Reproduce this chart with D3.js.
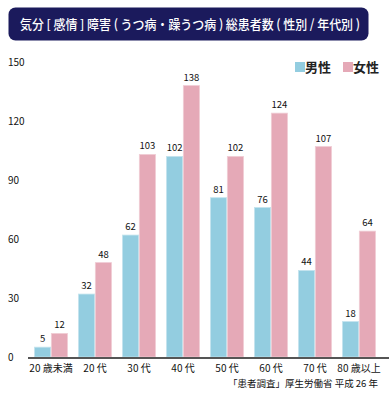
<!DOCTYPE html>
<html><head><meta charset="utf-8">
<script src="https://cdn.jsdelivr.net/npm/d3@7"></script>
<style>
html,body{margin:0;padding:0;background:#fff;}
svg{display:block;font-family:"Noto Sans CJK JP","Noto Sans",sans-serif;}
</style></head>
<body><svg id="c" width="389" height="393"></svg>
<script>
const title = "気分 [ 感情 ] 障害 ( うつ病・躁うつ病 ) 総患者数 ( 性別 / 年代別 )";
const categories = ["20 歳未満","20 代","30 代","40 代","50 代","60 代","70 代","80 歳以上"];
const seriesNames = ["男性","女性"];
const male = [5,32,62,102,81,76,44,18];
const female = [12,48,103,138,102,124,107,64];
const yTicks = [0,30,60,90,120,150];
const source = "「患者調査」厚生労働省 平成 26 年";
const colors = ["#93cde0","#e5a9b7"];

const svg = d3.select("#c");
// title box
svg.append("rect").attr("x",8.5).attr("y",7.5).attr("width",360).attr("height",33)
  .attr("rx",7).attr("fill","#1b1a5c");
svg.append("text").attr("x",20).attr("y",28.5)
  .attr("fill","#fff").attr("font-size",13).attr("font-weight","500")
  .attr("textLength",340).attr("lengthAdjust","spacingAndGlyphs").text(title);

const x = d3.scaleBand().domain(categories).range([29,381]).paddingInner(0.25).paddingOuter(0.125);
const x1 = d3.scaleBand().domain(seriesNames).range([0,x.bandwidth()]).paddingInner(0.04);
const y = d3.scaleLinear().domain([0,150]).range([357,62]);

// y tick labels
svg.append("g").selectAll("text").data(yTicks).join("text")
  .attr("x",8).attr("y",d=>y(d)+4).attr("font-size",10).attr("fill","#111").text(d=>d);

const data = categories.map((c,i)=>({c, vals:[male[i],female[i]]}));
const g = svg.append("g");
data.forEach(d=>{
  d.vals.forEach((v,j)=>{
    const bx = x(d.c)+x1(seriesNames[j]);
    g.append("rect").attr("x",bx).attr("y",y(v)).attr("width",x1.bandwidth())
      .attr("height",y(0)-y(v)).attr("fill",colors[j])
      .attr("stroke", j===0?"#c3e3ee":"#f0cdd5").attr("stroke-width",0.8);
    g.append("text").attr("x",bx+x1.bandwidth()/2).attr("y",y(v)-5)
      .attr("text-anchor","middle").attr("font-size",9.5).attr("fill","#111").text(v);
  });
});

// baseline
svg.append("line").attr("x1",28).attr("x2",389).attr("y1",y(0)+1).attr("y2",y(0)+1)
  .attr("stroke","#555").attr("stroke-width",2);

// x axis labels
const xa = svg.append("g").attr("transform",`translate(0,${y(0)+2})`)
  .call(d3.axisBottom(x).tickSize(0).tickPadding(6));
xa.select(".domain").remove();
xa.selectAll("text").attr("font-size",10).attr("fill","#111")
  .attr("font-family","\"Noto Sans CJK JP\",sans-serif");

// legend
const leg = svg.append("g");
[[295,"男性"],[343,"女性"]].forEach(([lx,t],i)=>{
  leg.append("rect").attr("x",lx).attr("y",62).attr("width",10).attr("height",10).attr("fill",colors[i]);
  leg.append("text").attr("x",lx+10).attr("y",72).attr("font-size",13).attr("font-weight","bold")
    .attr("fill","#222").text(seriesNames[i]);
});

// source
svg.append("text").attr("x",378).attr("y",387).attr("text-anchor","end")
  .attr("font-size",9.5).attr("fill","#111").text(source);
</script></body></html>
